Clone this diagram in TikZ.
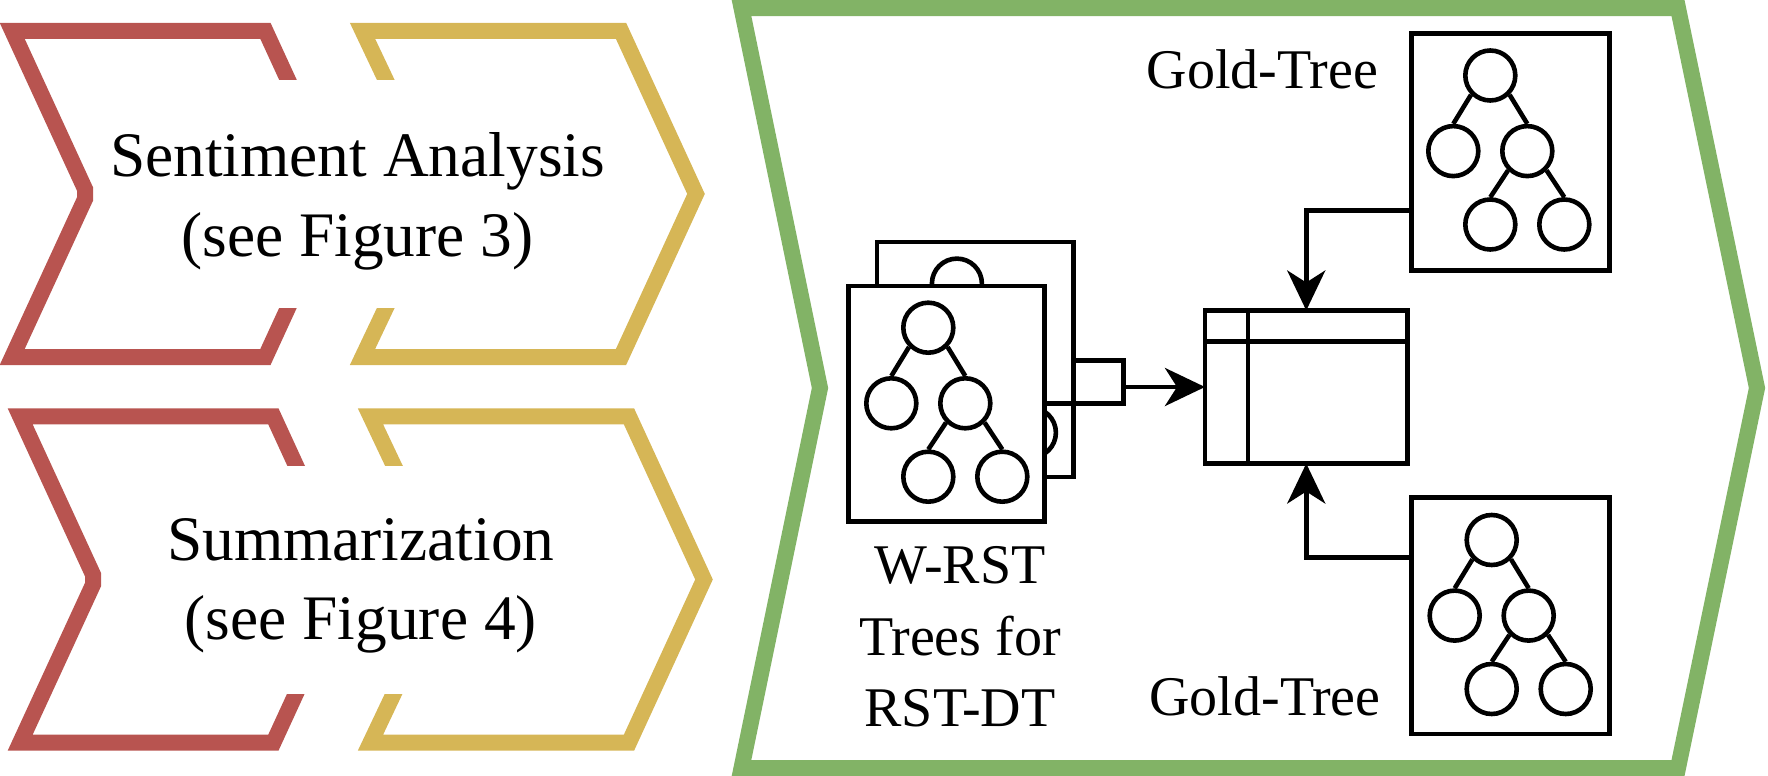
\documentclass[tikz,border=0pt]{standalone}
\usepackage{fontspec}
\setmainfont{Liberation Serif}
\usetikzlibrary{arrows.meta}
\definecolor{cred}{HTML}{B85450}
\definecolor{cyel}{HTML}{D6B656}
\definecolor{cgrn}{HTML}{82B366}
\tikzset{
  band/.style={line width=8pt, line join=miter},
  blk/.style={draw=black, line width=2.3pt},
  card/.style={blk, fill=white, rectangle, inner sep=0pt, outer sep=0pt},
  nd/.style={blk, circle, minimum size=25pt, inner sep=0pt, fill=white},
  edge/.style={line width=2.3pt},
  arr/.style={line width=2.3pt, -{Stealth[length=20pt,width=19pt,inset=6pt]}},
  big/.style={font=\fontsize{31.7}{40}\selectfont, inner sep=0pt, anchor=base},
  mid/.style={font=\fontsize{28}{36}\selectfont, inner sep=0pt, anchor=base},
}
\newcommand{\drawtree}[3]{%
  \begin{scope}[shift={(#2,#3)}]
    \node[nd] (#1r) at (0,0) {};
    \node[nd] (#1a) at (-37,75.6) {};
    \node[nd] (#1b) at (37,75.6) {};
    \node[nd] (#1c) at (0,149) {};
    \node[nd] (#1d) at (74,149) {};
  \end{scope}
  \draw[edge] (#1r.south west) -- (#1a.north);
  \draw[edge] (#1r.south east) -- (#1b.north);
  \draw[edge] (#1b.south west) -- (#1c.north);
  \draw[edge] (#1b.south east) -- (#1d.north);
}
\newcommand{\chevpair}{%
  \draw[band, cred] (12.2,30.8) -- (265.4,30.8) -- (340.4,193.9) -- (265.4,357) -- (12.2,357) -- (85,199) -- (85,189) -- cycle;
  \draw[band, cyel] (362.5,30.8) -- (621,30.8) -- (696,193.9) -- (621,357) -- (362.5,357) -- (437.5,199) -- (437.5,189) -- cycle;
  \fill[white] (268,80) rectangle (462,308.3);
}
\begin{document}
\begin{tikzpicture}[x=0.5pt, y=-0.5pt]
\useasboundingbox (0,0) rectangle (1768,776);

% green frame
\draw[band, cgrn] (741.5,8) -- (1678,8) -- (1757,388) -- (1678,768) -- (741.5,768) -- (820,388) -- cycle;

% chevrons
\chevpair
\begin{scope}[shift={(8,385.6)}]
  \chevpair
\end{scope}

\node[big] (sa1) at (357.5,176) {Sentiment Analysis};
\node[big] (sa2) at (357.5,256.7) {(see Figure 3)};
\node[big] (su1) at (360.8,560) {Summarization};
\node[big] (su2) at (360.8,639) {(see Figure 4)};

% stacked cards
\node[card, minimum width=98.35pt, minimum height=117.5pt] (back) at (975.3,359.5) {};
\drawtree{bt}{956.9}{283.6}
\draw[blk] (1073.7,360.5) -- (1123.7,360.5) -- (1123.7,403.7) -- (1044.7,403.7);
\node[card, minimum width=98pt, minimum height=117.6pt] (front) at (946.7,403.6) {};
\drawtree{ft}{928.3}{327.7}

\node[mid] (w1) at (960,583.3) {W-RST};
\node[mid] (w2) at (960,655) {Trees for};
\node[mid] (w3) at (960,726.7) {RST-DT};

% table
\node[card, minimum width=101.25pt, minimum height=76.5pt] (tbl) at (1306.25,387) {};
\coordinate (h1) at (1205,341.5);
\draw[blk] (h1) -- (h1 -| tbl.east);
\coordinate (v1) at (1248,310.5);
\draw[blk] (v1) -- (v1 |- tbl.south);

% gold trees
\node[card, minimum width=99pt, minimum height=118.5pt] (g1) at (1510.5,152) {};
\drawtree{ga}{1490.3}{75.5}
\node[card, minimum width=99pt, minimum height=118.25pt] (g2) at (1510.5,615.75) {};
\drawtree{gb}{1491.7}{540}

\node[mid] (gl1) at (1262.5,88.3) {Gold-Tree};
\node[mid] (gl2) at (1265,715) {Gold-Tree};

% arrows
\coordinate (a1) at (1411.5,210.4);
\coordinate (a2) at (1411.5,557.3);
\coordinate (smE) at (1123.7,387);
\draw[arr] (a1) -| (tbl.north);
\draw[arr] (a2) -| (tbl.south);
\draw[arr] (smE) -- (tbl.west);
\end{tikzpicture}
\end{document}
